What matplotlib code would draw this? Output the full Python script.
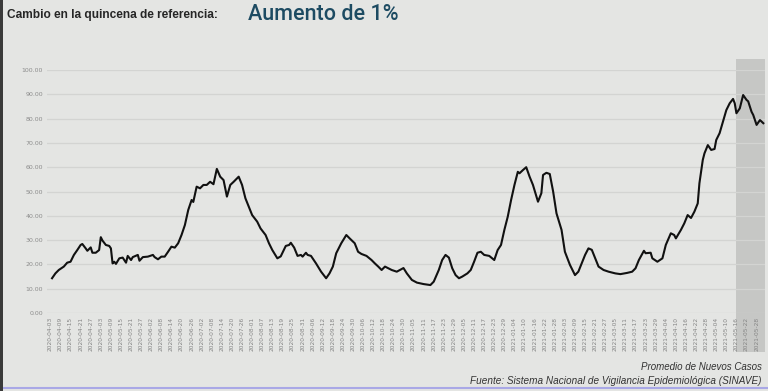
import numpy as np
import pandas as pd
import matplotlib
matplotlib.use("Agg")
import matplotlib.pyplot as plt
from matplotlib.patches import Rectangle
from matplotlib.lines import Line2D

plt.rcParams['font.family'] = ['Liberation Sans', 'DejaVu Sans']

# ---- data ----
start_date = "2020-04-03"
day_offsets = [1, 3, 5, 8, 10, 12, 14, 16, 18, 19, 21, 22, 24, 25, 27, 29, 30, 31, 33, 35,
               36, 37, 38, 39, 41, 43, 45, 46, 48, 49, 52, 53, 55, 58, 61, 62, 64, 66, 68, 70,
               72, 74, 76, 78, 80, 82, 84, 85, 87, 89, 91, 93, 95, 97, 99, 101, 103, 105, 107, 109,
               112, 114, 116, 118, 120, 123, 125, 128, 130, 132, 135, 137, 140, 142, 143, 145, 147, 149, 150, 152,
               153, 155, 158, 161, 164, 166, 168, 170, 173, 176, 178, 181, 183, 185, 188, 191, 193, 195, 197, 199,
               203, 206, 210, 212, 215, 218, 222, 226, 228, 231, 233, 235, 237, 239, 241, 243, 245, 248, 250, 252,
               254, 256, 258, 261, 264, 266, 268, 270, 272, 274, 276, 278, 279, 281, 283, 285, 287, 290, 292, 293,
               295, 297, 299, 301, 304, 306, 309, 312, 314, 316, 318, 320, 322, 324, 326, 329, 332, 336, 339, 343,
               346, 348, 350, 353, 354, 357, 358, 361, 364, 366, 369, 371, 372, 375, 377, 379, 381, 383, 385, 386,
               388, 389, 391, 393, 395, 396, 398, 400, 402, 404, 406, 407, 408, 410, 412, 414, 415, 417, 418, 420,
               422, 424]
new_cases = [14.3, 16.3, 17.7, 19.1, 20.7, 21.1, 23.9, 25.9, 28.0, 28.4, 26.6, 25.6, 27.0, 24.8, 24.8, 25.9, 31.2, 29.8, 28.0, 27.6,
             26.6, 20.4, 21.1, 20.2, 22.5, 22.8, 20.7, 23.5, 21.8, 23.0, 23.9, 21.5, 23.0, 23.2, 23.9, 23.0, 22.1, 23.2, 23.2, 25.2,
             27.3, 26.9, 28.7, 32.1, 36.2, 42.4, 46.5, 45.7, 52.0, 51.3, 52.7, 52.7, 54.0, 53.0, 59.3, 56.1, 54.7, 47.9, 52.7, 54.0,
             56.1, 52.7, 47.2, 43.7, 40.3, 37.6, 34.8, 32.1, 28.7, 25.9, 22.5, 23.3, 27.6, 28.0, 28.9, 26.9, 23.5, 23.9, 23.2, 24.8,
             23.9, 23.5, 20.4, 17.0, 14.3, 16.3, 19.1, 24.6, 28.7, 32.1, 30.7, 28.7, 25.2, 24.3, 23.5, 21.8, 20.4, 19.1, 17.7, 19.1,
             17.7, 17.0, 18.5, 16.3, 13.6, 12.5, 11.9, 11.5, 12.9, 17.7, 21.8, 23.9, 22.8, 18.4, 15.6, 14.3, 15.0, 16.3, 17.7, 21.1,
             24.8, 25.2, 23.9, 23.5, 21.8, 25.9, 28.0, 34.2, 39.6, 46.5, 52.7, 58.1, 57.5, 58.8, 60.0, 56.1, 52.7, 45.8, 49.3, 56.8,
             57.7, 57.2, 50.0, 41.0, 34.2, 25.2, 19.8, 15.6, 17.0, 20.4, 23.9, 26.6, 26.0, 22.5, 19.1, 17.7, 17.0, 16.3, 16.0, 16.5,
             17.0, 18.4, 21.8, 25.6, 24.6, 24.8, 22.5, 21.1, 22.5, 28.0, 32.8, 32.1, 30.7, 34.2, 36.9, 40.3, 39.1, 41.7, 45.1, 53.4,
             63.0, 65.7, 69.1, 67.1, 67.5, 71.2, 74.0, 78.7, 83.5, 86.3, 88.1, 86.3, 82.2, 84.2, 89.7, 87.7, 87.1, 82.8, 81.5, 77.4,
             79.4, 78.1]
tick_start = "2020-04-03"
tick_end = "2021-05-28"
y_ticks = [0, 10, 20, 30, 40, 50, 60, 70, 80, 90, 100]

title_left = "Cambio en la quincena de referencia:"
title_right = "Aumento de 1%"
note_1 = "Promedio de Nuevos Casos"
note_2 = "Fuente: Sistema Nacional de Vigilancia Epidemiológica (SINAVE)"

# ---- figure ----
W, H = 768, 391
bg = "#e4e5e3"
fig = plt.figure(figsize=(W / 100, H / 100), dpi=100, facecolor=bg)

def fx(px):
    return px / W

def fy(py):
    return 1 - py / H

ax_left, ax_right, ax_top, ax_bottom = 47, 765, 70, 313
ax = fig.add_axes([fx(ax_left), fy(ax_bottom), fx(ax_right - ax_left), (ax_bottom - ax_top) / H])
ax.set_facecolor("none")
ax.set_zorder(2)

# highlight band (behind the axes)
fig.patches.append(Rectangle((fx(736), fy(352)), fx(765 - 736), (352 - 59) / H,
                             transform=fig.transFigure, facecolor="#c6c7c5",
                             edgecolor="none", zorder=0))
# left dark border and bottom accent line of screenshot
fig.patches.append(Rectangle((0, 0), fx(3), 1, transform=fig.transFigure,
                             facecolor="#3a3a3a", edgecolor="none", zorder=0))
fig.lines.append(Line2D([0, 1], [fy(388), fy(388)], transform=fig.transFigure,
                        color="#a9a8e6", lw=1.5, zorder=0))

start = np.datetime64(start_date)
dates = start + np.array(day_offsets).astype("timedelta64[D]")
ax.plot(dates, new_cases, color="#111111", lw=1.5, solid_joinstyle="round", zorder=3)

ax.set_ylim(0, 100)
ax.set_yticks(y_ticks)
ax.set_yticklabels([f"{v:.2f}" for v in y_ticks])
x0 = start - np.timedelta64(2, "D")
x1 = start + np.timedelta64(425, "D")
ax.set_xlim(x0, x1)
ticks = pd.date_range(tick_start, tick_end, freq="6D")
ax.set_xticks(ticks)
ax.set_xticklabels([t.strftime("%Y-%m-%d") for t in ticks], rotation=90,
                   fontsize=4.2, color="#858585", family="DejaVu Sans")
ax.tick_params(axis="x", length=0, pad=3)
ax.tick_params(axis="y", length=0, pad=3, labelsize=4.5, labelcolor="#8c8c8c")
for lbl in ax.get_yticklabels():
    lbl.set_family("DejaVu Sans")
ax.grid(axis="y", color="#d3d4d2", lw=0.9)
ax.set_axisbelow(True)
for s in ax.spines.values():
    s.set_visible(False)

fig.text(fx(7), fy(15), title_left, fontsize=8.6, fontweight="bold",
         color="#262626", va="center", ha="left")
fig.text(fx(248), fy(15), title_right, fontsize=15.5, color="#1d4b62",
         va="center", ha="left", family=["Roboto", "DejaVu Sans"], fontweight="medium")
fig.text(fx(762), fy(367), note_1, fontsize=7, style="italic", color="#333333",
         va="center", ha="right")
fig.text(fx(762), fy(381), note_2, fontsize=7.2, style="italic", color="#333333",
         va="center", ha="right")

fig.savefig("out.png", dpi=100, facecolor=bg)
